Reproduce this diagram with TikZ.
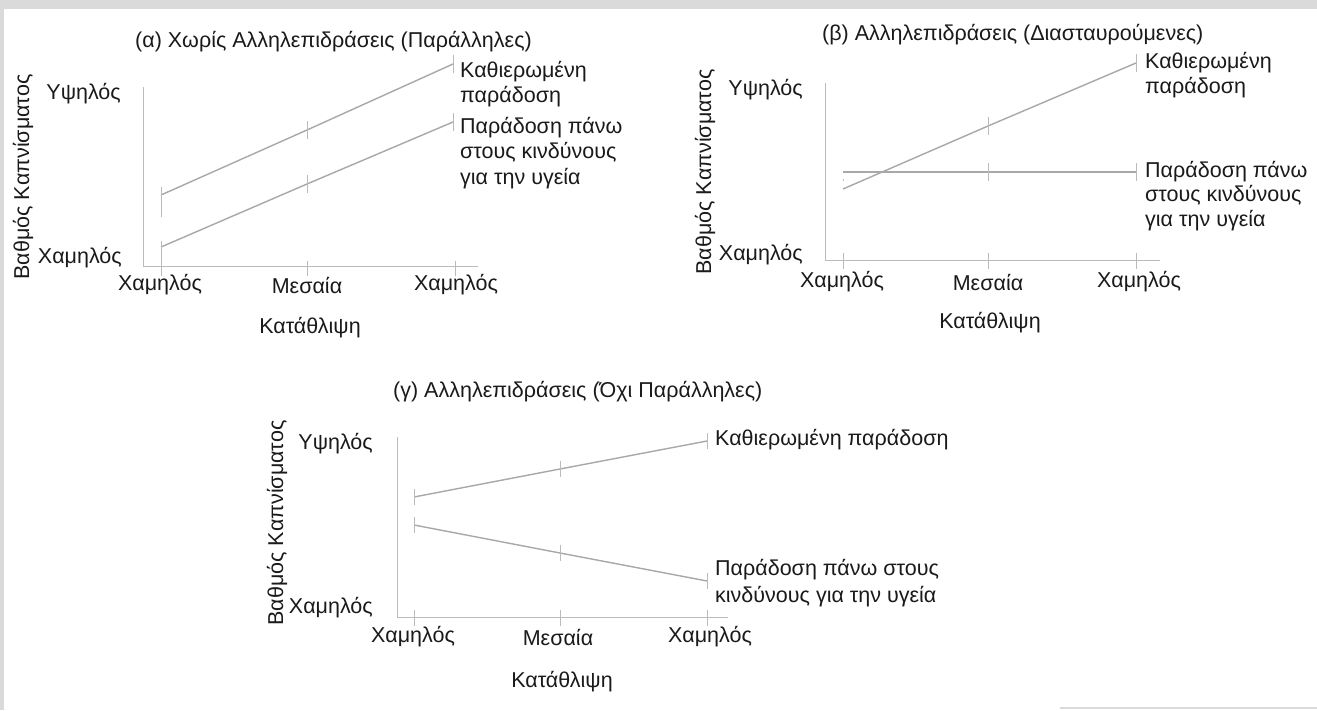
\documentclass[tikz,border=0pt]{standalone}
\usepackage{fontspec}
\setmainfont{Liberation Sans}
\definecolor{plotline}{HTML}{A8A8A8}
\definecolor{axisline}{HTML}{BBBBBB}
\definecolor{txt}{HTML}{1A1A1A}
\definecolor{scan}{HTML}{DADADA}
\begin{document}
\begin{tikzpicture}[x=1pt,y=-1pt,
  axis/.style={draw=axisline,line width=0.9pt},
  series/.style={draw=plotline,line width=1.4pt},
  tickmark/.style={draw=axisline,line width=0.8pt},
  lbl/.style={inner sep=0pt,text=txt},
  fa/.style={font=\fontsize{21.5}{25.5}\selectfont},
  fb/.style={font=\fontsize{21.5}{24.5}\selectfont},
  fc/.style={font=\fontsize{21.5}{27}\selectfont}]
\useasboundingbox[fill=white] (0,0) rectangle (1317,710);
% scanned page edges
\fill[scan] (0,0) rectangle (1317,9);
\fill[scan] (0,0) rectangle (4,710);
\draw[scan,line width=1.5pt] (1060,708) -- (1317,708);

% ---------------- (a) ----------------
\node[lbl,fa,anchor=west] (ta) at (135,42) {(α) Χωρίς Αλληλεπιδράσεις (Παράλληλες)};
\coordinate (ayt) at (143,87);
\coordinate (ao) at (143,266);
\coordinate (axe) at (478,266);
\draw[axis] (ayt) -- (ao) -- (axe);
\foreach \x/\n in {161/1,307/2,455/3}{
  \coordinate (ax\n) at (\x,266);
  \draw[tickmark] ([yshift=-10pt]ax\n) -- ([yshift=5pt]ax\n);
}
\coordinate (a11) at (161,195);
\coordinate (a12) at (307,130);
\coordinate (a13) at (453,64);
\coordinate (a21) at (161,247);
\coordinate (a22) at (307,184);
\coordinate (a23) at (453,122);
\draw[series] (a11) -- (a12) -- (a13);
\draw[series] (a21) -- (a22) -- (a23);
\draw[tickmark] ([yshift=-22pt]a11) -- ([yshift=8pt]a11);
\draw[tickmark] ([yshift=-14pt]a21) -- ([yshift=6pt]a21);
\foreach \p in {a12,a13,a22,a23}{
  \draw[tickmark] ([yshift=-9pt]\p) -- ([yshift=9pt]\p);
}
\node[lbl,fa,anchor=west,align=left] (la1) at (460,84) {Καθιερωμένη\\παράδοση};
\node[lbl,fa,anchor=west,align=left] (la2) at (460,153) {Παράδοση πάνω\\στους κινδύνους\\για την υγεία};
\node[lbl,fa,anchor=east] (ahi) at (121,94) {Υψηλός};
\node[lbl,fa,anchor=east] (alo) at (122,258) {Χαμηλός};
\node[lbl,fa,rotate=90] (ay) at (23,177) {Βαθμός Καπνίσματος};
\node[lbl,fa] (axl1) at (160,285) {Χαμηλός};
\node[lbl,fa] (axl2) at (307,285) {Μεσαία};
\node[lbl,fa] (axl3) at (456,285) {Χαμηλός};
\node[lbl,fa] (axt) at (310,328) {Κατάθλιψη};

% ---------------- (b) ----------------
\node[lbl,fb,anchor=west] (tb) at (822,35) {(β) Αλληλεπιδράσεις (Διασταυρούμενες)};
\coordinate (byt) at (825,83);
\coordinate (bo) at (825,260);
\coordinate (bxe) at (1160,260);
\draw[axis] (byt) -- (bo) -- (bxe);
\foreach \x/\n in {843/1,988/2,1136/3}{
  \coordinate (bx\n) at (\x,260);
  \draw[tickmark] ([yshift=-9pt]bx\n) -- ([yshift=7pt]bx\n);
}
\coordinate (b11) at (843,189);
\coordinate (b12) at (988,126);
\coordinate (b13) at (1136,63);
\coordinate (b21) at (843,172);
\coordinate (b22) at (988,172);
\coordinate (b23) at (1136,172);
\draw[series] (b11) -- (b12) -- (b13);
\draw[series] (b21) -- (b22) -- (b23);
\draw[tickmark] ([yshift=-7pt]b21) -- ([yshift=8pt]b11);
\foreach \p in {b12,b13,b22,b23}{
  \draw[tickmark] ([yshift=-9pt]\p) -- ([yshift=9pt]\p);
}
\node[lbl,fb,anchor=west,align=left] (lb1) at (1145,75) {Καθιερωμένη\\παράδοση};
\node[lbl,fb,anchor=west,align=left] (lb2) at (1145,196) {Παράδοση πάνω\\στους κινδύνους\\για την υγεία};
\node[lbl,fb,anchor=east] (bhi) at (803,90) {Υψηλός};
\node[lbl,fb,anchor=east] (blo) at (803,255) {Χαμηλός};
\node[lbl,fb,rotate=90] (by) at (705,172) {Βαθμός Καπνίσματος};
\node[lbl,fb] (bxl1) at (842,282) {Χαμηλός};
\node[lbl,fb] (bxl2) at (988,282) {Μεσαία};
\node[lbl,fb] (bxl3) at (1139,282) {Χαμηλός};
\node[lbl,fb] (bxt) at (990,323) {Κατάθλιψη};

% ---------------- (c) ----------------
\node[lbl,fc,anchor=west] (tc) at (393,392) {(γ) Αλληλεπιδράσεις (Όχι Παράλληλες)};
\coordinate (cyt) at (397,437);
\coordinate (co) at (397,617);
\coordinate (cxe) at (728,617);
\draw[axis] (cyt) -- (co) -- (cxe);
\foreach \x/\n in {414/1,560/2,707/3}{
  \coordinate (cx\n) at (\x,617);
  \draw[tickmark] ([yshift=-9pt]cx\n) -- ([yshift=7pt]cx\n);
}
\coordinate (c11) at (414,497);
\coordinate (c12) at (560,469);
\coordinate (c13) at (707,441);
\coordinate (c21) at (414,525);
\coordinate (c22) at (560,553);
\coordinate (c23) at (707,581);
\draw[series] (c11) -- (c12) -- (c13);
\draw[series] (c21) -- (c22) -- (c23);
\foreach \p in {c11,c12,c13,c21,c22,c23}{
  \draw[tickmark] ([yshift=-8pt]\p) -- ([yshift=8pt]\p);
}
\node[lbl,fc,anchor=west] (lc1) at (715,440) {Καθιερωμένη παράδοση};
\node[lbl,fc,anchor=west,align=left] (lc2) at (715,583) {Παράδοση πάνω στους\\κινδύνους για την υγεία};
\node[lbl,fc,anchor=east] (chi) at (373,444) {Υψηλός};
\node[lbl,fc,anchor=east] (clo) at (373,608) {Χαμηλός};
\node[lbl,fc,rotate=90] (cy) at (277,523) {Βαθμός Καπνίσματος};
\node[lbl,fc] (cxl1) at (413,637) {Χαμηλός};
\node[lbl,fc] (cxl2) at (558,637) {Μεσαία};
\node[lbl,fc] (cxl3) at (710,637) {Χαμηλός};
\node[lbl,fc] (cxt) at (562,682) {Κατάθλιψη};
\end{tikzpicture}
\end{document}
